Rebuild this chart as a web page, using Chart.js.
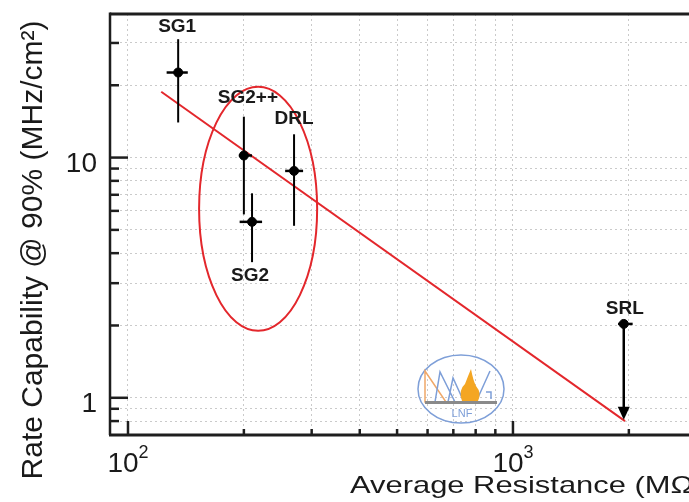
<!DOCTYPE html>
<html>
<head>
<meta charset="utf-8">
<script src="https://cdn.jsdelivr.net/npm/chart.js@4.4.1/dist/chart.umd.min.js"></script>
<style>
  html, body { margin: 0; padding: 0; background: #fff; overflow: hidden; }
  #wrap { width: 689px; height: 502px; }
</style>
</head>
<body>
<div id="wrap"><canvas id="c" width="689" height="502"></canvas></div>
<script>
// Detector samples: average resistance (MΩ) vs rate capability at 90% efficiency (MHz/cm²)
const samples        = ['SG1', 'SG2++', 'SG2', 'DRL', 'SRL'];
const resistance     = [135, 200, 210, 270, 1940];
const resistanceLow  = [126, 194, 195, 256, 1875];
const resistanceHigh = [143, 210, 223, 285, 2046];
const rateCap        = [22.6, 10.2, 5.4, 8.8, 2.03];
const rateLow        = [14.0, 5.8, 3.67, 5.2, 0.81];
const rateHigh       = [31.1, 14.8, 7.1, 12.5, 2.03];
const upperLimit     = [false, false, false, false, true];

// Power-law fit drawn between its two end points
const fitResistance = [122, 1955];
const fitRate       = [18.8, 0.80];

// Highlighted group (SG2, SG2++, DRL)
const groupResistance = [153, 310];
const groupRate       = [1.90, 19.7];

// Axis ranges and grid values
const xRange  = [89.8, 2866];
const yRange  = [0.709, 39.6];
const xGrid   = [100, 200, 300, 400, 500, 600, 700, 800, 900, 1000, 2000];
const yGrid   = [0.8, 0.9, 1, 2, 3, 4, 5, 6, 7, 8, 9, 10, 20, 30];
const xLabels = [{ v: 100, base: '10', exp: '2' }, { v: 1000, base: '10', exp: '3' }];
const yLabels = [{ v: 1, text: '1' }, { v: 10, text: '10' }];

// Label placement (pixels relative to the error-bar end)
const labelStyle = {
  'SG1':   { anchor: 'high', dx: -1, dy: -12 },
  'SG2++': { anchor: 'high', dx: 4,  dy: -19 },
  'SG2':   { anchor: 'low',  dx: -2, dy: 14 },
  'DRL':   { anchor: 'high', dx: 0,  dy: -16 },
  'SRL':   { anchor: 'high', dx: 1,  dy: -15 }
};

const RED = '#e3272c';
const FONT = '"Liberation Sans", Arial, Helvetica, sans-serif';

const decorations = {
  id: 'decorations',
  beforeDatasetsDraw(chart) {
    const { ctx, scales: { x, y } } = chart;
    // highlight ellipse around the SG2 / SG2++ / DRL group
    const x0 = x.getPixelForValue(groupResistance[0]);
    const x1 = x.getPixelForValue(groupResistance[1]);
    const y0 = y.getPixelForValue(groupRate[1]);
    const y1 = y.getPixelForValue(groupRate[0]);
    ctx.save();
    ctx.strokeStyle = RED;
    ctx.lineWidth = 2;
    ctx.beginPath();
    ctx.ellipse((x0 + x1) / 2, (y0 + y1) / 2, (x1 - x0) / 2, (y1 - y0) / 2, 0, 0, Math.PI * 2);
    ctx.stroke();
    ctx.restore();
  },
  afterDatasetsDraw(chart) {
    const { ctx, scales: { x, y } } = chart;
    ctx.save();
    ctx.strokeStyle = '#000';
    ctx.fillStyle = '#000';
    samples.forEach((name, i) => {
      const px = x.getPixelForValue(resistance[i]);
      const py = y.getPixelForValue(rateCap[i]);
      const pl = x.getPixelForValue(resistanceLow[i]);
      const ph = x.getPixelForValue(resistanceHigh[i]);
      const yl = y.getPixelForValue(rateLow[i]);
      const yh = y.getPixelForValue(rateHigh[i]);
      // horizontal error bar
      ctx.lineWidth = 2.5;
      ctx.beginPath(); ctx.moveTo(pl, py); ctx.lineTo(ph, py); ctx.stroke();
      // vertical error bar or upper-limit arrow
      ctx.lineWidth = 2;
      if (upperLimit[i]) {
        ctx.lineWidth = 2.5;
        ctx.beginPath(); ctx.moveTo(px, py); ctx.lineTo(px, yl - 10); ctx.stroke();
        ctx.beginPath();
        ctx.moveTo(px - 6, yl - 13);
        ctx.lineTo(px + 6, yl - 13);
        ctx.lineTo(px, yl);
        ctx.closePath(); ctx.fill();
      } else {
        ctx.beginPath(); ctx.moveTo(px, yh); ctx.lineTo(px, yl); ctx.stroke();
      }
      // sample label
      const st = labelStyle[name];
      const ly = (st.anchor === 'high' ? yh : yl) + st.dy;
      ctx.font = 'bold 19px ' + FONT;
      ctx.textAlign = 'center';
      ctx.textBaseline = 'middle';
      ctx.fillStyle = '#1a1a1a';
      ctx.fillText(name, px + st.dx, ly);
      ctx.fillStyle = '#000';
    });
    ctx.restore();
  },
  afterDraw(chart) {
    const { ctx, chartArea: a, scales: { x, y } } = chart;
    ctx.save();
    // frame (top, left, bottom)
    ctx.strokeStyle = '#1e1e1e';
    ctx.lineWidth = 3;
    ctx.beginPath(); ctx.moveTo(a.left, a.top); ctx.lineTo(a.right, a.top); ctx.stroke();
    ctx.lineWidth = 2.5;
    ctx.beginPath(); ctx.moveTo(a.left, a.top - 1.5); ctx.lineTo(a.left, a.bottom); ctx.stroke();
    ctx.lineWidth = 3;
    ctx.beginPath(); ctx.moveTo(a.left - 1, a.bottom); ctx.lineTo(a.right, a.bottom); ctx.stroke();

    // inward tick marks
    ctx.lineWidth = 2.5;
    yGrid.forEach(v => {
      const py = y.getPixelForValue(v);
      const len = (v === 1 || v === 10) ? 18 : 9;
      ctx.beginPath(); ctx.moveTo(a.left, py); ctx.lineTo(a.left + len, py); ctx.stroke();
    });
    xGrid.forEach(v => {
      const px = x.getPixelForValue(v);
      const len = (v === 100 || v === 1000) ? 14 : 6;
      ctx.beginPath(); ctx.moveTo(px, a.bottom); ctx.lineTo(px, a.bottom - len); ctx.stroke();
    });

    // tick labels
    ctx.fillStyle = '#1a1a1a';
    ctx.textBaseline = 'alphabetic';
    yLabels.forEach(l => {
      ctx.font = '28px ' + FONT;
      ctx.textAlign = 'right';
      ctx.fillText(l.text, 97, y.getPixelForValue(l.v) + 14);
    });
    xLabels.forEach(l => {
      const px = x.getPixelForValue(l.v);
      ctx.font = '28px ' + FONT;
      const wb = ctx.measureText(l.base).width;
      ctx.font = '18px ' + FONT;
      const we = ctx.measureText(l.exp).width;
      const left = px - (wb + we) / 2;
      ctx.textAlign = 'left';
      ctx.font = '28px ' + FONT;
      ctx.fillText(l.base, left, 472);
      ctx.font = '18px ' + FONT;
      ctx.fillText(l.exp, left + wb, 458);
    });

    // axis titles
    ctx.font = '24px ' + FONT;
    ctx.textAlign = 'left';
    ctx.save();
    ctx.translate(350, 493);
    ctx.scale(1.287, 1);
    ctx.fillText('Average Resistance (MΩ)', 0, 0);
    ctx.restore();

    ctx.save();
    ctx.translate(42, 250);
    ctx.rotate(-Math.PI / 2);
    ctx.font = '30px ' + FONT;
    ctx.textAlign = 'center';
    ctx.fillText('Rate Capability @ 90% (MHz/cm²)', 0, 0);
    ctx.restore();

    // LNF logo
    const cx = 461, cy = 389;
    ctx.strokeStyle = '#7e9fd8';
    ctx.lineWidth = 1.5;
    ctx.beginPath(); ctx.ellipse(cx, cy, 43, 34, 0, 0, Math.PI * 2); ctx.stroke();
    ctx.strokeStyle = '#f0a868';
    ctx.lineWidth = 1.5;
    ctx.beginPath();
    ctx.moveTo(425, 402); ctx.lineTo(425, 371); ctx.lineTo(446, 402); ctx.closePath(); ctx.stroke();
    ctx.strokeStyle = '#7e9fd8';
    ctx.beginPath();
    ctx.moveTo(435, 402); ctx.lineTo(440, 372); ctx.lineTo(455, 402);
    ctx.moveTo(448, 402); ctx.lineTo(453, 378); ctx.lineTo(464, 402);
    ctx.moveTo(476, 402); ctx.lineTo(490, 371);
    ctx.moveTo(486, 392); ctx.lineTo(491, 392); ctx.lineTo(491, 399);
    ctx.stroke();
    // flame
    ctx.fillStyle = '#f4a623';
    ctx.beginPath();
    ctx.moveTo(462, 401);
    ctx.quadraticCurveTo(458, 390, 465, 384);
    ctx.quadraticCurveTo(468, 376, 471, 369);
    ctx.quadraticCurveTo(473, 380, 476, 386);
    ctx.quadraticCurveTo(482, 393, 478, 401);
    ctx.closePath();
    ctx.fill();
    ctx.fillStyle = '#8a8a8a';
    ctx.fillRect(425, 401, 72, 3);
    ctx.fillStyle = '#7e9fd8';
    ctx.font = '11px ' + FONT;
    ctx.textAlign = 'center';
    ctx.fillText('LNF', 462, 417);
    ctx.restore();
  }
};

const gridStyle = { color: '#cacaca', lineWidth: 1, drawTicks: false };

new Chart(document.getElementById('c'), {
  type: 'scatter',
  data: {
    datasets: [
      {
        type: 'line',
        data: fitResistance.map((v, i) => ({ x: v, y: fitRate[i] })),
        borderColor: RED,
        borderWidth: 2,
        pointRadius: 0,
        fill: false,
        order: 2
      },
      {
        data: resistance.map((v, i) => ({ x: v, y: rateCap[i] })),
        pointRadius: 4.5,
        backgroundColor: '#000',
        borderColor: '#000',
        order: 1
      }
    ]
  },
  options: {
    responsive: false,
    animation: false,
    events: [],
    layout: { autoPadding: false, padding: { top: 14, left: 0, right: 0, bottom: 0 } },
    plugins: { legend: { display: false }, tooltip: { enabled: false } },
    scales: {
      x: {
        type: 'logarithmic',
        min: xRange[0], max: xRange[1],
        afterBuildTicks: s => { s.ticks = xGrid.map(v => ({ value: v })); },
        afterFit: s => { s.height = 67; },
        ticks: { display: false },
        grid: gridStyle,
        border: { display: false, dash: [2, 3] }
      },
      y: {
        type: 'logarithmic',
        min: yRange[0], max: yRange[1],
        afterBuildTicks: s => { s.ticks = yGrid.map(v => ({ value: v })); },
        afterFit: s => { s.width = 110; },
        ticks: { display: false },
        grid: gridStyle,
        border: { display: false, dash: [2, 3] }
      }
    }
  },
  plugins: [decorations]
});
</script>
</body>
</html>
